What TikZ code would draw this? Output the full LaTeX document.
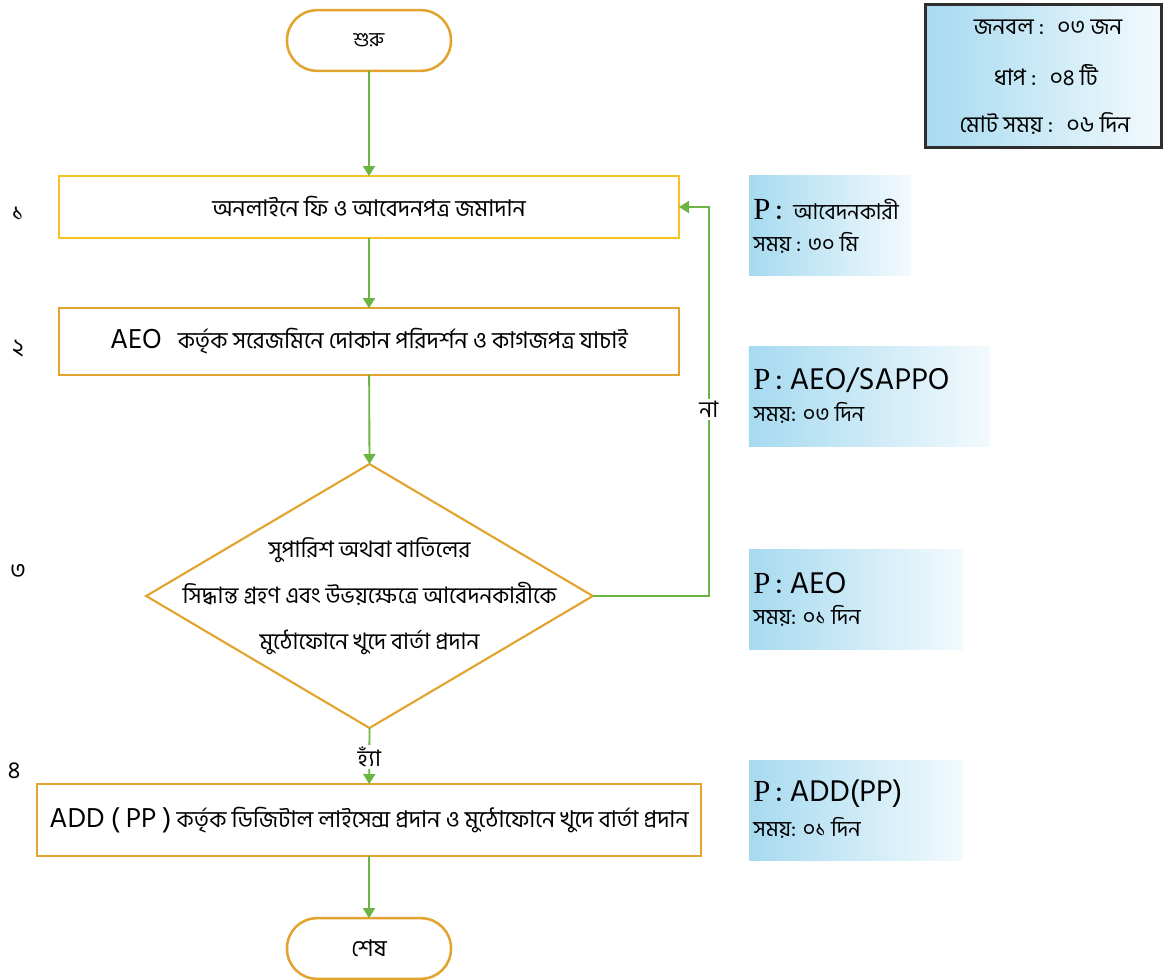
\documentclass[tikz,border=0pt]{standalone}
\usepackage{fontspec}
\newfontfamily\bn[Script=Bengali]{Hind Siliguri}
\newfontfamily\pser{Liberation Serif}
\usetikzlibrary{arrows.meta,shapes.geometric}
\definecolor{boxor}{HTML}{E2A42E}
\definecolor{boxye}{HTML}{F8C224}
\definecolor{flowg}{HTML}{6CB443}
\definecolor{skyb}{HTML}{A6DAF0}
\definecolor{fadew}{HTML}{F3FAFD}
\definecolor{infobd}{HTML}{2E2E2E}
\tikzset{
  term/.style={draw=boxor, line width=1.9pt, rounded corners=22.5pt, minimum width=123pt, minimum height=45.5pt, inner sep=0pt, outer sep=0pt, fill=white},
  proc/.style={draw=boxor, line width=1.8pt, inner sep=0pt, outer sep=0pt, fill=white},
  decis/.style={draw=boxor, line width=1.6pt, diamond, inner sep=0pt, outer sep=0pt, minimum width=335pt, minimum height=198pt},
  flow/.style={draw=flowg, line width=1.4pt, -{Triangle[length=7.5pt,width=9pt]}},
  sidebox/.style={left color=skyb, right color=fadew, draw=none, inner sep=0pt, outer sep=0pt},
  infobox/.style={left color=skyb, right color=fadew, draw=infobd, line width=2.2pt, inner sep=0pt, outer sep=0pt},
  txt/.style={font=\bn\fontsize{17.3}{20}\selectfont, inner sep=0pt},
  sidep/.style={anchor=west, inner sep=0pt, font=\bn\fontsize{23}{26}\selectfont},
  sidet/.style={anchor=west, inner sep=0pt, font=\bn\fontsize{16.3}{19}\selectfont},
  infot/.style={inner sep=0pt, font=\bn\fontsize{17}{20}\selectfont},
  num/.style={inner sep=0pt, font=\bn\fontsize{18}{20}\selectfont},
  lbl/.style={fill=white, inner sep=1.5pt, font=\bn\fontsize{17}{20}\selectfont}
}
\begin{document}
\begin{tikzpicture}[x=0.75pt,y=-0.75pt]
\useasboundingbox (0,0) rectangle (1163,979);
% terminals
\node[term] (start) at (369,40.5) {};
\node[txt, font=\bn\fontsize{15}{18}\selectfont] (starttxt) at (start.center) {শুরু};
\node[term] (stop) at (369,948.5) {};
\node[txt] (stoptxt) at (stop.center) {শেষ};
% processes
\node[proc, draw=boxye, minimum width=465pt, minimum height=46.5pt] (b1) at (369,207) {};
\node[txt] (b1t) at (b1.center) {অনলাইনে ফি ও আবেদনপত্র জমাদান};
\node[proc, minimum width=465pt, minimum height=50pt] (b2) at (369,341.5) {};
\node[txt] (b2t) at (b2.center) {\fontsize{21}{24}\selectfont AEO\hspace{12pt}\fontsize{17.3}{20}\selectfont কর্তৃক সরেজমিনে দোকান পরিদর্শন ও কাগজপত্র যাচাই};
\node[decis] (d) at (369.5,596) {};
\node[txt, align=center, font=\bn\fontsize{17}{34.5}\selectfont] (dt) at (d.center) {সুপারিশ অথবা বাতিলের\\সিদ্ধান্ত গ্রহণ এবং উভয়ক্ষেত্রে আবেদনকারীকে\\মুঠোফোনে খুদে বার্তা প্রদান};
\node[proc, minimum width=498pt, minimum height=54pt] (b3) at (369,820) {};
\node[txt] (b3t) at (b3.center) {\fontsize{21}{24}\selectfont ADD ( PP )\fontsize{17.3}{20}\selectfont{} কর্তৃক ডিজিটাল লাইসেন্স প্রদান ও মুঠোফোনে খুদে বার্তা প্রদান};
% step numbers
\node[num] (n1) at (18,214) {১};
\node[num] (n2) at (18,349) {২};
\node[num] (n3) at (18,571) {৩};
\node[num] (n4) at (14,771) {৪};
% connectors
\draw[flow] (start) -- (b1);
\draw[flow] (b1) -- (b2);
\draw[flow] (b2) -- (d.north);
\draw[flow] (d.south) -- (b3) node[lbl, pos=0.52] (yes) {হ্যাঁ};
\draw[flow] (b3) -- (stop);
\draw[flow] (d.east) -- ++(116,0) |- (b1.east) node[lbl, pos=0.24] (no) {না};
% info box
\node[infobox, minimum width=177.5pt, minimum height=107pt] (info) at (1043.5,76) {};
\node[infot] (i1) at (1048,27) {জনবল :\hspace{10pt}০৩ জন};
\node[infot] (i2) at (1046,75) {ধাপ :\hspace{10pt}০৪ টি};
\node[infot] (i3) at (1045,123) {মোট সময় :\hspace{10pt}০৬ দিন};
% side boxes
\node[sidebox, minimum width=121.5pt, minimum height=74.5pt] (s1) at (830,225.5) {};
\node[sidep] (s1a) at (753,210) {{\pser P}\,:\hspace{8pt}\fontsize{16.3}{19}\selectfont আবেদনকারী};
\node[sidet] (s1b) at (753,243) {সময় : ৩০ মি};
\node[sidebox, minimum width=181pt, minimum height=74.5pt] (s2) at (869.5,396.5) {};
\node[sidep] (s2a) at (753,380) {{\pser P}\,: AEO/SAPPO};
\node[sidet] (s2b) at (753,413) {সময়: ০৩ দিন};
\node[sidebox, minimum width=160.5pt, minimum height=75pt] (s3) at (856,599) {};
\node[sidep] (s3a) at (753,583) {{\pser P}\,: AEO};
\node[sidet] (s3b) at (753,616) {সময়: ০১ দিন};
\node[sidebox, minimum width=160.5pt, minimum height=75pt] (s4) at (856,810) {};
\node[sidep] (s4a) at (753,794) {{\pser P}\,: ADD(PP)};
\node[sidet] (s4b) at (753,828) {সময়: ০১ দিন};
\end{tikzpicture}
\end{document}
